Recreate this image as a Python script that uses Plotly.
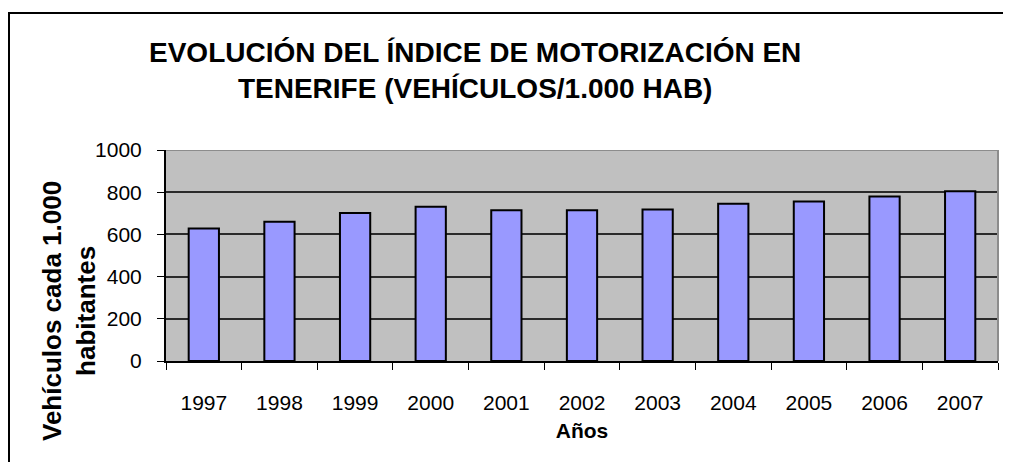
import plotly.graph_objects as go

years = ["1997", "1998", "1999", "2000", "2001", "2002", "2003", "2004", "2005", "2006", "2007"]
indice = [628, 660, 702, 731, 714, 714, 718, 745, 756, 780, 805]
y_ticks = [0, 200, 400, 600, 800, 1000]

FONT = "Liberation Sans, Arial, sans-serif"

# page body adds an 8px margin, so the figure is sized/placed to compensate
W, H = 1003, 454
ML, MR, MT, MB = 158, 13, 142, 101
PW = W - ML - MR
PH = H - MT - MB

fig = go.Figure()
fig.add_trace(go.Bar(
    x=years, y=indice,
    marker=dict(color="#9999FF", line=dict(color="black", width=2)),
    hoverinfo="x+y",
))

fig.update_layout(
    width=W, height=H,
    margin=dict(l=ML, r=MR, t=MT, b=MB),
    paper_bgcolor="white",
    plot_bgcolor="#C0C0C0",
    bargap=0.6,
    showlegend=False,
    font=dict(family=FONT, color="black"),
)

# title
fig.add_annotation(
    text="<b>EVOLUCIÓN DEL ÍNDICE DE MOTORIZACIÓN EN<br>TENERIFE (VEHÍCULOS/1.000 HAB)</b>",
    xref="paper", yref="paper",
    x=(467 - ML) / PW, y=(H - MB - 62) / PH,
    xanchor="center", yanchor="middle", showarrow=False,
    font=dict(family=FONT, size=28, color="black"),
)

fig.update_xaxes(
    type="category",
    showline=True, linecolor="black", linewidth=2,
    ticks="outside", tickson="boundaries", ticklen=7, tickcolor="black", tickwidth=1,
    tickfont=dict(size=21),
    ticklabelstandoff=22,
    title=dict(text="<b>Años</b>", font=dict(size=21), standoff=10),
    showgrid=False,
)

fig.update_yaxes(
    range=[0, 1000],
    tickvals=y_ticks,
    showline=True, linecolor="black", linewidth=2,
    ticks="outside", ticklen=7, tickcolor="black", tickwidth=1,
    tickfont=dict(size=21),
    ticklabelstandoff=11,
    showgrid=True, gridcolor="#2A2A2A", gridwidth=2,
    zeroline=False,
)

# gray border on top and right of the plot area
fig.add_shape(type="line", xref="paper", yref="y", x0=0, x1=1, y0=1000, y1=1000,
              line=dict(color="#8C8C8C", width=2), layer="above")
fig.add_shape(type="line", xref="paper", yref="y", x0=1, x1=1, y0=0, y1=1000,
              line=dict(color="#8C8C8C", width=2), layer="above")

# y axis title
fig.add_annotation(
    text="<b>Vehículos cada 1.000<br>habitantes</b>",
    xref="paper", yref="paper",
    x=(27 - ML) / PW, y=(H - MB - 303) / PH,
    xanchor="left", yanchor="middle",
    textangle=-90, showarrow=False,
    font=dict(family=FONT, size=26, color="black"),
)

# outer chart frame
fig.add_shape(type="rect", xref="paper", yref="paper",
              x0=(1 - ML) / PW, x1=(W + 20 - ML) / PW,
              y0=-1.0, y1=(H - MB - 5) / PH,
              line=dict(color="black", width=2), fillcolor="rgba(0,0,0,0)")

fig.write_html("out.html")
